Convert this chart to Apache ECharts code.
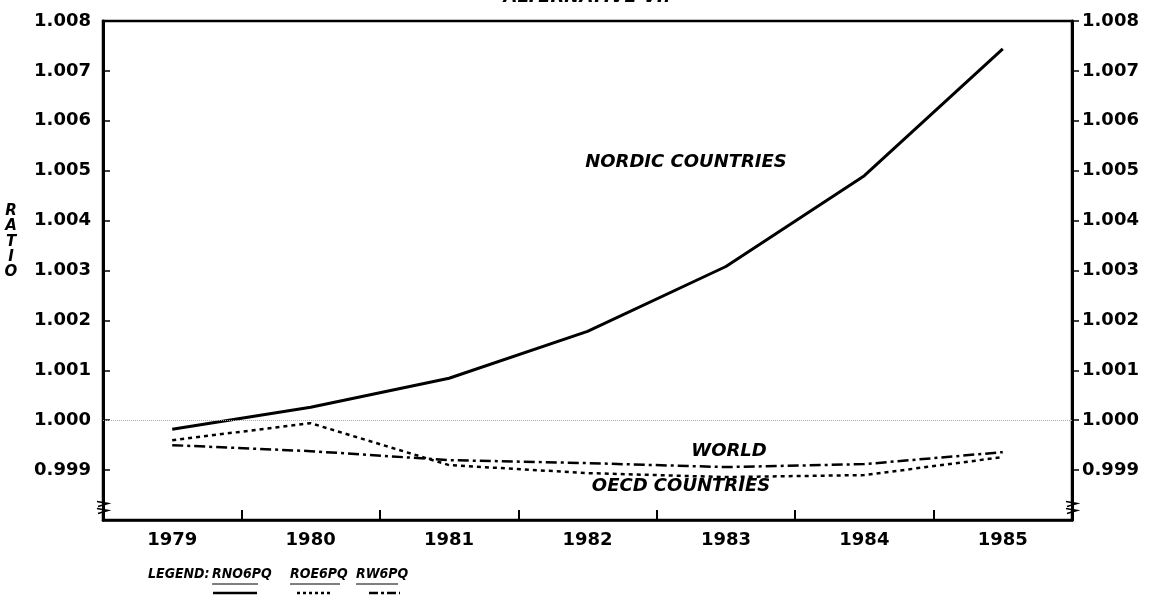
<!DOCTYPE html>
<html>
<head>
<meta charset="utf-8">
<script src="https://cdn.jsdelivr.net/npm/echarts@6/dist/echarts.min.js"></script>
<style>html,body{margin:0;padding:0;background:#fff}#c{width:1175px;height:602px}</style>
</head>
<body>
<div id="c"></div>
<script>
const years = ['1979','1980','1981','1982','1983','1984','1985'];
const nordic = [0.99982, 1.00026, 1.00084, 1.00178, 1.00308, 1.00490, 1.00744];
const oecd   = [0.99960, 0.99994, 0.99910, 0.99894, 0.99886, 0.99890, 0.99926];
const world  = [0.99950, 0.99938, 0.99920, 0.99914, 0.99906, 0.99912, 0.99936];
const yMin = 0.998, yMax = 1.008, yStep = 0.001;
const seriesNames = ['RNO6PQ', 'ROE6PQ', 'RW6PQ'];
const curveLabels = ['NORDIC COUNTRIES', 'OECD COUNTRIES', 'WORLD'];

const chart = echarts.init(document.getElementById('c'));
const F = 'DejaVu Sans';
const yLabel = {
  fontFamily: F, fontWeight: 'bold', fontSize: 18, color: '#000',
  showMinLabel: false,
  formatter: v => v.toFixed(3)
};
const styles = [
  {type: 'solid', width: 3},
  {type: [4, 4], width: 2.5},
  {type: [11, 4, 3, 4], width: 2.5}
];
const dataSets = [nordic, oecd, world];
const series = dataSets.map((d, i) => ({
  name: seriesNames[i], type: 'line', data: d, symbol: 'none', smooth: false,
  lineStyle: Object.assign({color: '#000'}, styles[i]),
  silent: true, animation: false,
  markLine: i === 0 ? {
    symbol: 'none', silent: true, label: {show: false},
    lineStyle: {type: 'dotted', color: '#aaa', width: 1},
    data: [{yAxis: 1.0}]
  } : undefined
}));

chart.setOption({
  animation: false,
  grid: {left: 103, right: 103, top: 21, bottom: 82, show: true, borderColor: '#000', borderWidth: 2.5},
  xAxis: {
    type: 'category', data: years, boundaryGap: true,
    axisLine: {lineStyle: {color: '#000', width: 2.5}},
    axisTick: {show: true, inside: true, length: 10, lineStyle: {color: '#000', width: 2}},
    axisLabel: {fontFamily: F, fontWeight: 'bold', fontSize: 18, color: '#000', margin: 11}
  },
  yAxis: [
    {type: 'value', min: yMin, max: yMax, interval: yStep, position: 'left',
     axisLine: {show: true, lineStyle: {color: '#000', width: 3}},
     axisTick: {show: true, inside: true, length: 7, lineStyle: {color: '#000', width: 1.5}},
     splitLine: {show: false}, axisLabel: Object.assign({margin: 12}, yLabel)},
    {type: 'value', min: yMin, max: yMax, interval: yStep, position: 'right',
     axisLine: {show: true, lineStyle: {color: '#000', width: 3}},
     axisTick: {show: true, inside: false, length: 7, lineStyle: {color: '#000', width: 1.5}},
     splitLine: {show: false}, axisLabel: Object.assign({margin: 10}, yLabel)}
  ],
  series: series
});

// annotations, legend, break marks
const gLeft = 103, gRight = 1175 - 103;
const yb = chart.convertToPixel({yAxisIndex: 0}, 0.99825);
const annF = {fontFamily: F, fontWeight: 'bold', fontStyle: 'italic', fontSize: 18, fill: '#000'};
const txt = (x, y, s, extra) => ({type: 'text', x, y, silent: true,
  style: Object.assign({text: s, textAlign: 'center', textVerticalAlign: 'middle'}, annF, extra || {})});
const breakMark = x => ({type: 'group', silent: true, children: [
  {type: 'rect', shape: {x: x - 3, y: yb - 4, width: 6, height: 7}, style: {fill: '#fff'}},
  {type: 'polyline', shape: {points: [[x - 6, yb - 6], [x + 5, yb - 4], [x - 5, yb - 1]]}, style: {stroke: '#000', lineWidth: 1.6, fill: null}},
  {type: 'polyline', shape: {points: [[x - 6, yb + 1], [x + 5, yb + 3], [x - 5, yb + 6]]}, style: {stroke: '#000', lineWidth: 1.6, fill: null}}
]});
const legF = {fontFamily: "'DejaVu Sans Condensed', 'DejaVu Sans'", fontWeight: 'bold', fontStyle: 'italic', fontSize: 14, fill: '#000', textAlign: 'left', textVerticalAlign: 'middle'};
const legY = 574;
const legItems = [
  {x: 212, w: 46, sx: 213, sw: 44},
  {x: 290, w: 50, sx: 297, sw: 33},
  {x: 356, w: 42, sx: 369, sw: 31}
];
const legChildren = [{type: 'text', x: 148, y: legY, style: Object.assign({text: 'LEGEND:'}, legF)}];
legItems.forEach((it, i) => {
  legChildren.push({type: 'text', x: it.x, y: legY, style: Object.assign({text: seriesNames[i]}, legF)});
  legChildren.push({type: 'line', shape: {x1: it.x, y1: legY + 10, x2: it.x + it.w, y2: legY + 10}, style: {stroke: '#000', lineWidth: 1}});
  legChildren.push({type: 'line', shape: {x1: it.sx, y1: legY + 19, x2: it.sx + it.sw, y2: legY + 19},
    style: {stroke: '#000', lineWidth: 2.5, lineDash: i === 0 ? null : (i === 1 ? [3, 3] : [9, 3, 3, 3])}});
});

const ratioLetters = ['R', 'A', 'T', 'I', 'O'];
const ratioY = [211, 226, 242, 257, 272];

chart.setOption({graphic: [
  {type: 'text', x: 587, y: -12, silent: true, style: Object.assign({}, annF, {text: 'ALTERNATIVE VI.', fontSize: 18, textAlign: 'center', textVerticalAlign: 'top'})},
  txt(686, 162, curveLabels[0]),
  txt(681, 486, curveLabels[1]),
  txt(729, 451, curveLabels[2]),
  {type: 'group', silent: true, children: ratioLetters.map((ch, k) => (
    {type: 'text', x: 11, y: ratioY[k], style: Object.assign({}, annF, {text: ch, fontSize: 15, textAlign: 'center', textVerticalAlign: 'middle'})}
  ))},
  breakMark(gLeft),
  breakMark(gRight),
  {type: 'group', silent: true, children: legChildren}
]});
</script>
</body>
</html>
